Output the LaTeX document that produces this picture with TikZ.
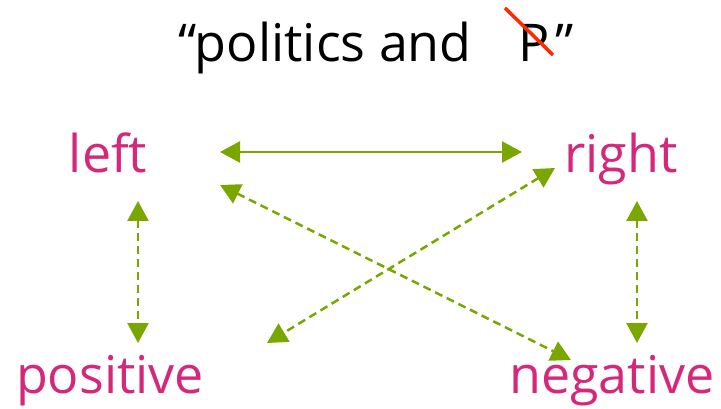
\documentclass[tikz,border=0pt]{standalone}
\usepackage{fontspec}
\setmainfont{Open Sans}
\usetikzlibrary{arrows.meta,positioning,calc}
\definecolor{polmagenta}{HTML}{D6287A}
\definecolor{polgreen}{HTML}{7AA600}
\definecolor{polred}{HTML}{FF2A00}

\begin{document}
\begin{tikzpicture}[
    x=1pt,y=-1pt,
    mot/.style   = {text=polmagenta, font=\fontsize{52}{60}\selectfont,
                    inner sep=0pt, text height=42pt, text depth=0pt, anchor=base},
    titre/.style = {font=\fontsize{52}{60}\selectfont, inner sep=0pt, anchor=base},
    fl/.style    = {{Triangle[length=20pt,width=21pt]}-{Triangle[length=20pt,width=21pt]},
                    polgreen, line width=2.5pt},
    flp/.style   = {fl, dash pattern=on 8pt off 5pt},
    barre/.style = {polred, line width=3.5pt},
  ]

  \useasboundingbox (0,0) rectangle (721,409);

  % titre
  \node[titre,anchor=base east] (titre) at (472,62) {“politics and};
  \node[titre] (pp) at (534,62) {P};
  \node[titre,anchor=base west] (guil) at ([xshift=5pt]pp.base east) {”};
  \draw[barre] ([shift={(-29,-54)}]pp.base) -- ([shift={(19,-7)}]pp.base);

  \node[mot] (left)  at (108,173) {left};
  \node[mot] (right) at (621,173) {right};
  \node[mot] (pos)   at (110,393) {positive};
  \node[mot] (neg)   at (612,393) {negative};

  \draw[fl]  ([shift={(112,0)}]left.center)  -- ([shift={(-99,0)}]right.center);
  \draw[flp] ([shift={(30,49)}]left.center)  -- ([shift={(28,-29)}]pos.center);
  \draw[flp] ([shift={(16,49)}]right.center) -- ([shift={(25,-29)}]neg.center);
  \draw[flp] ([shift={(112,33)}]left.center) -- ([shift={(-41,-12)}]neg.center);
  \draw[flp] ([shift={(-66,16)}]right.center) -- ([shift={(157,-29)}]pos.center);

\end{tikzpicture}
\end{document}
